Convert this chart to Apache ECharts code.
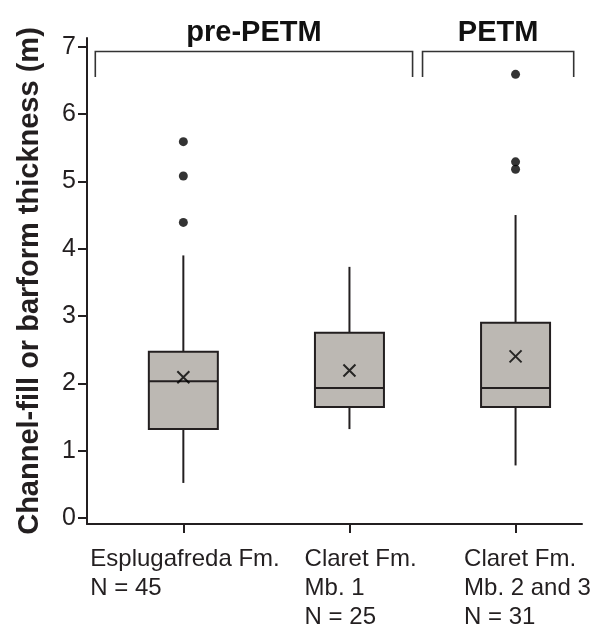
<!DOCTYPE html>
<html>
<head>
<meta charset="utf-8">
<script src="https://cdn.jsdelivr.net/npm/echarts@6/dist/echarts.min.js"></script>
<style>
  html, body { margin: 0; padding: 0; background: #fff; }
  #main { width: 591px; height: 635px; }
</style>
</head>
<body>
<div id="main"></div>
<script>
// data (m)
var categories = ['Esplugafreda Fm.\nN = 45', 'Claret Fm.\nMb. 1\nN = 25', 'Claret Fm.\nMb. 2 and 3\nN = 31'];
var positions = [1, 2, 3];
var lowWhisker = [0.52, 1.32, 0.78];
var q1 = [1.32, 1.65, 1.65];
var median = [2.03, 1.93, 1.93];
var q3 = [2.47, 2.75, 2.90];
var highWhisker = [3.90, 3.73, 4.50];
var means = [2.09, 2.19, 2.40];
var outliers = [[1, 5.59], [1, 5.08], [1, 4.39], [3, 6.59], [3, 5.29], [3, 5.18]];
var yTicks = [0, 1, 2, 3, 4, 5, 6, 7];
var groups = ['pre-PETM', 'PETM'];
var groupStart = [0.47, 2.44];
var groupEnd = [2.38, 3.35];

// layout only: labels are left aligned, shifted from their tick
var labelShift = [-0.56, -0.27, -0.31];
var ink = '#231f20';

var myChart = echarts.init(document.getElementById('main'));

var labelValues = positions.map(function (p, i) { return p + labelShift[i]; });

var boxData = positions.map(function (p, i) {
    return [p, lowWhisker[i], q1[i], median[i], q3[i], highWhisker[i]];
});

var option = {
    backgroundColor: '#fff',
    animation: false,
    grid: { left: 87, right: 9, top: 38, bottom: 111, outerBoundsMode: 'none' },
    xAxis: {
        type: 'value',
        min: 0.42,
        max: 3.40,
        splitLine: { show: false },
        axisLine: { show: true, onZero: false, lineStyle: { color: ink, width: 2 } },
        axisTick: { show: true, length: 9, customValues: positions, lineStyle: { color: ink, width: 2 } },
        axisLabel: {
            customValues: labelValues,
            formatter: function (v) {
                for (var i = 0; i < labelValues.length; i++) {
                    if (Math.abs(labelValues[i] - v) < 1e-6) return categories[i];
                }
                return '';
            },
            align: 'left',
            verticalAlign: 'top',
            margin: 21,
            fontFamily: 'Liberation Sans',
            fontSize: 24,
            lineHeight: 29,
            color: ink
        }
    },
    yAxis: {
        type: 'value',
        min: -0.09,
        max: 7.13,
        name: 'Channel-fill or barform thickness (m)',
        nameLocation: 'middle',
        nameGap: 43,
        nameTextStyle: { fontFamily: 'Liberation Sans', fontSize: 29, fontWeight: 'bold', color: ink },
        splitLine: { show: false },
        axisLine: { show: true, lineStyle: { color: ink, width: 2 } },
        axisTick: { show: true, length: 9, customValues: yTicks, lineStyle: { color: ink, width: 2 } },
        axisLabel: {
            customValues: yTicks,
            margin: 11,
            fontFamily: 'Liberation Sans',
            fontSize: 25,
            color: ink
        }
    },
    series: [
        {
            type: 'custom',
            name: 'boxes',
            data: boxData,
            encode: { x: 0, y: [1, 2, 3, 4, 5] },
            renderItem: function (params, api) {
                var x = api.value(0);
                var c = function (d) { return api.coord([x, api.value(d)]); };
                var half = 34.5;
                var lo = c(1), b1 = c(2), md = c(3), b3 = c(4), hi = c(5);
                var st = { stroke: ink, lineWidth: 2 };
                return {
                    type: 'group',
                    children: [
                        { type: 'line', shape: { x1: hi[0], y1: hi[1], x2: b3[0], y2: b3[1] }, style: st },
                        { type: 'line', shape: { x1: lo[0], y1: lo[1], x2: b1[0], y2: b1[1] }, style: st },
                        { type: 'rect', shape: { x: b3[0] - half, y: b3[1], width: half * 2, height: b1[1] - b3[1] },
                          style: { fill: '#bcb8b3', stroke: ink, lineWidth: 2 } },
                        { type: 'line', shape: { x1: md[0] - half, y1: md[1], x2: md[0] + half, y2: md[1] }, style: st }
                    ]
                };
            }
        },
        {
            type: 'scatter',
            name: 'outliers',
            data: outliers,
            symbol: 'circle',
            symbolSize: 9,
            itemStyle: { color: '#000' }
        },
        {
            type: 'scatter',
            name: 'mean',
            data: positions.map(function (p, i) { return [p, means[i]]; }),
            symbol: 'path://M0,0L10,10M10,0L0,10',
            symbolSize: 12,
            itemStyle: { color: 'none', borderColor: '#000', borderWidth: 2 }
        },
        {
            type: 'custom',
            name: 'groups',
            data: groups.map(function (g, i) { return [groupStart[i], groupEnd[i], i]; }),
            encode: { x: [0, 1] },
            renderItem: function (params, api) {
                var i = api.value(2);
                var a = api.coord([api.value(0), 6.55]);
                var b = api.coord([api.value(0), 6.93]);
                var d = api.coord([api.value(1), 6.93]);
                var e = api.coord([api.value(1), 6.55]);
                return {
                    type: 'group',
                    children: [
                        { type: 'polyline', shape: { points: [a, b, d, e] },
                          style: { stroke: '#333', lineWidth: 1.6, fill: 'none' } },
                        { type: 'text', style: {
                            text: groups[i], x: (b[0] + d[0]) / 2, y: b[1] - 18,
                            align: 'center', verticalAlign: 'middle',
                            fontFamily: 'Liberation Sans', fontSize: 29, fontWeight: 'bold', fill: '#111'
                        } }
                    ]
                };
            }
        }
    ]
};

myChart.setOption(option);
</script>
</body>
</html>
